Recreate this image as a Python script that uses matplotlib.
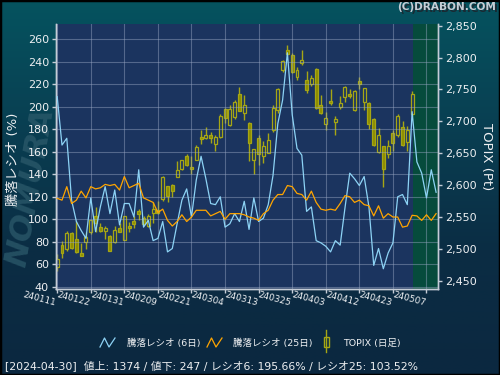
import numpy as np
import matplotlib
matplotlib.use("Agg")
import matplotlib.pyplot as plt
from matplotlib.colors import LinearSegmentedColormap
from matplotlib.lines import Line2D
from matplotlib.patches import Rectangle
from matplotlib.transforms import ScaledTranslation

plt.rcParams['font.family'] = ['DejaVu Sans', 'Noto Sans CJK JP']

# TOPIX daily candles, 2024-01-11 .. 2024-04-30 (one entry per trading day)
topix_open = [2472, 2506, 2500, 2525, 2515, 2493, 2510, 2526, 2551, 2535,
              2528, 2520, 2510, 2533, 2514, 2536, 2544, 2559, 2548, 2536,
              2556, 2561, 2578, 2598, 2600, 2613, 2625, 2645, 2628, 2640,
              2675, 2674, 2678, 2665, 2676, 2719, 2695, 2707, 2743, 2713,
              2697, 2640, 2674, 2645, 2651, 2687, 2718, 2780, 2812, 2804,
              2770, 2792, 2765, 2759, 2782, 2726, 2696, 2732, 2699, 2722,
              2738, 2743, 2718, 2763, 2731, 2729, 2704, 2652, 2661, 2649,
              2682, 2678, 2691, 2667, 2712]
topix_high = [2492, 2513, 2528, 2526, 2544, 2509, 2526, 2546, 2566, 2541,
              2536, 2521, 2536, 2541, 2552, 2542, 2552, 2563, 2552, 2554,
              2573, 2575, 2614, 2599, 2601, 2638, 2640, 2648, 2645, 2663,
              2686, 2691, 2683, 2679, 2712, 2721, 2725, 2734, 2754, 2742,
              2699, 2657, 2679, 2669, 2681, 2725, 2752, 2797, 2820, 2807,
              2786, 2812, 2779, 2773, 2783, 2742, 2714, 2751, 2709, 2740,
              2755, 2751, 2749, 2769, 2753, 2731, 2705, 2689, 2662, 2671,
              2686, 2711, 2700, 2692, 2747]
topix_low = [2466, 2485, 2497, 2500, 2494, 2488, 2500, 2523, 2526, 2527,
             2515, 2496, 2509, 2526, 2514, 2527, 2533, 2546, 2538, 2535,
             2541, 2554, 2575, 2574, 2582, 2613, 2624, 2630, 2617, 2639,
             2664, 2672, 2666, 2654, 2674, 2697, 2693, 2703, 2716, 2702,
             2638, 2618, 2631, 2635, 2650, 2684, 2713, 2778, 2804, 2776,
             2765, 2789, 2745, 2755, 2719, 2711, 2686, 2726, 2679, 2719,
             2731, 2737, 2717, 2750, 2718, 2688, 2662, 2651, 2597, 2643,
             2654, 2675, 2661, 2653, 2708]
topix_close = [2484, 2494, 2525, 2502, 2495, 2489, 2518, 2545, 2540, 2528,
               2532, 2497, 2529, 2527, 2551, 2532, 2539, 2554, 2539, 2552,
               2562, 2556, 2612, 2583, 2591, 2624, 2640, 2631, 2625, 2660,
               2672, 2678, 2674, 2676, 2709, 2705, 2719, 2730, 2717, 2725,
               2666, 2656, 2648, 2661, 2670, 2721, 2751, 2795, 2806, 2777,
               2781, 2797, 2749, 2768, 2721, 2713, 2705, 2729, 2703, 2729,
               2754, 2739, 2747, 2758, 2752, 2696, 2663, 2678, 2626, 2662,
               2666, 2709, 2663, 2686, 2743]

# advance/decline ratios (%)
ratio6 = [209, 166, 172, 117, 98, 90, 83, 119, 89, 111,
          129, 105, 126, 95, 114, 114, 102, 144, 93, 99,
          81, 83, 98, 71, 74, 96, 117, 127, 102, 135,
          156, 136, 114, 113, 120, 93, 96, 105, 98, 116,
          91, 119, 98, 101, 113, 139, 185, 206, 248, 193,
          163, 157, 107, 111, 81, 79, 76, 71, 81, 77,
          110, 141, 136, 130, 138, 111, 59, 74, 56, 70,
          79, 120, 122, 113, 195.66, 151, 141, 119, 144, 124]
ratio25 = [118.6, 117, 129, 114, 117, 125, 119, 129, 127, 128,
           131, 130, 131, 126, 138, 128, 130, 132, 119, 117,
           115, 106, 109, 99, 94, 98, 104, 98, 102, 108,
           108, 108, 103, 105, 107, 100, 105, 105, 105, 104,
           102, 101, 99, 105, 108, 117, 122, 122, 130, 129,
           123, 122, 117, 125, 115, 109, 108, 109, 108, 114,
           121, 120, 115, 117, 113, 112, 103, 112, 101, 105,
           102, 102, 93, 94, 103.52, 103, 99, 104, 99, 105]

date_labels = ['240111', '240122', '240131', '240209', '240221', '240304',
               '240313', '240325', '240403', '240412', '240423', '240507']
tick_step = 7  # trading days between labels
last_candle = '2024-04-30'
advances, declines = 1374, 247

plot_bg = '#1b345f'
olive_face = '#8c8c00'
olive_edge = '#a6a614'
txt = '#eef0f2'
axis_col = '#c4ccd6'

fig = plt.figure(figsize=(5, 3.75), dpi=100)

# gradient background
bg = fig.add_axes([0, 0, 1, 1], zorder=-10)
cmap = LinearSegmentedColormap.from_list('bg', ['#05535f', '#093f52', '#0b2d44', '#0b2840'])
bg.imshow(np.linspace(0, 1, 256)[:, None], aspect='auto', cmap=cmap, extent=[0, 1, 0, 1])
bg.set_xlim(0, 1)
bg.set_ylim(0, 1)
bg.axis('off')
bg.text(0.062, 0.5, 'NOMURA', rotation=80, fontsize=23, fontweight='bold',
        style='italic', color='#2c5a6b', ha='center', va='center', alpha=0.75)

ax = fig.add_axes([0.112, 0.2293, 0.764, 0.7067])
ax2 = ax.twinx()
ax.set_zorder(ax2.get_zorder() + 1)
ax.patch.set_visible(False)
ax2.patch.set_visible(True)
ax2.patch.set_facecolor(plot_bg)

# candles on the right axis
o = np.array(topix_open, dtype=float)
h = np.array(topix_high, dtype=float)
l = np.array(topix_low, dtype=float)
c = np.array(topix_close, dtype=float)
xc = np.arange(len(c))
up = c >= o
ax2.axvspan(74.15, 81, color='#064b3c', zorder=0, lw=0)
ax2.vlines(xc, l, h, color=olive_edge, lw=1, zorder=2)
body_h = np.maximum(np.abs(c - o), 1.5)
ax2.bar(xc, body_h, bottom=np.minimum(o, c), width=0.62,
        color=np.where(up, plot_bg, olive_face), edgecolor=olive_edge,
        linewidth=0.9, zorder=3)

# ratio lines on the left axis
xr = np.arange(len(ratio6))
ax.plot(xr, ratio6, color='#8dd3f5', lw=0.9, zorder=3)
ax.plot(xr, ratio25, color='#ffa500', lw=0.9, zorder=3)

ax.set_xlim(-0.25, 79.4)
ax.set_ylim(38, 273.6)
ax2.set_ylim(2437, 2852.7)

ax.set_yticks(range(40, 261, 20))
ax2.set_yticks(range(2450, 2851, 50))
ax2.set_yticklabels([f'{v:,}' for v in range(2450, 2851, 50)])
ax.set_xticks(np.arange(len(date_labels)) * tick_step)
ax.set_xticklabels(date_labels, rotation=-15, rotation_mode='anchor',
                   ha='right', va='top')
for lbl in ax.get_xticklabels():
    lbl.set_transform(lbl.get_transform() + ScaledTranslation(0.04, 0, fig.dpi_scale_trans))

ax.grid(True, color='#9aa8c4', lw=0.8, alpha=0.45)
ax.tick_params(axis='y', colors=axis_col, labelcolor=txt, labelsize=8, length=3, width=1, pad=2)
ax.tick_params(axis='x', colors=axis_col, labelcolor=txt, labelsize=6.4, length=3, width=1, pad=4)
ax2.tick_params(axis='y', colors=axis_col, labelcolor=txt, labelsize=8, length=3, width=1, pad=2)

for a in (ax, ax2):
    a.spines['top'].set_visible(False)
    for s in ('left', 'right', 'bottom'):
        a.spines[s].set_color(axis_col)
        a.spines[s].set_linewidth(1)

ax.set_ylabel('騰落レシオ (%)', color=txt, fontsize=9.5)
ax.yaxis.set_label_coords(-0.095, 0.49)
ax2.set_ylabel('TOPIX (Pt)', color=txt, fontsize=9.5, rotation=270, va='center')
ax2.yaxis.set_label_coords(1.127, 0.5)

# legend row
W, H = 500, 375
def fx(px):
    return px / W
def fy(py):
    return 1 - py / H

zig = [0, 0.3, 0.6, 1.0]
zy = [0, 1, 0, 1]
for x0, col in ((100, '#8dd3f5'), (207, '#ffa500')):
    fig.add_artist(Line2D([fx(x0 + 15 * t) for t in zig], [fy(347 - 9 * v) for v in zy],
                          color=col, lw=0.9))
fig.add_artist(Line2D([fx(326), fx(326)], [fy(330), fy(352)], color=olive_edge, lw=1))
fig.add_artist(Rectangle((fx(323.5), fy(347)), fx(5), 10 / H, facecolor='#0b2b42',
                         edgecolor=olive_edge, lw=1))
fig.text(fx(127), fy(343.5), '騰落レシオ (6日)', color=txt, fontsize=6.8, va='center')
fig.text(fx(233), fy(343.5), '騰落レシオ (25日)', color=txt, fontsize=6.8, va='center')
fig.text(fx(343), fy(343.5), 'TOPIX (日足)', color=txt, fontsize=6.8, va='center')

status = (f'[{last_candle}]  値上: {advances} / 値下: {declines} / '
          f'レシオ6: {ratio6[74]:.2f}% / レシオ25: {ratio25[74]:.2f}%')
fig.text(fx(5), fy(366), status, color=txt, fontsize=7.8, va='center')

fig.text(fx(497.5), fy(8.5), '(C)DRABON.COM', color='#1a2a33', fontsize=7.6,
         fontweight='bold', ha='right', va='center')
fig.text(fx(496.5), fy(7.5), '(C)DRABON.COM', color='#c6ced6', fontsize=7.6,
         fontweight='bold', ha='right', va='center')

fig.add_artist(Rectangle((0, 0), 1, 1, transform=fig.transFigure, fill=False,
                         edgecolor='black', lw=2.5))

fig.savefig('out.png', dpi=100)
